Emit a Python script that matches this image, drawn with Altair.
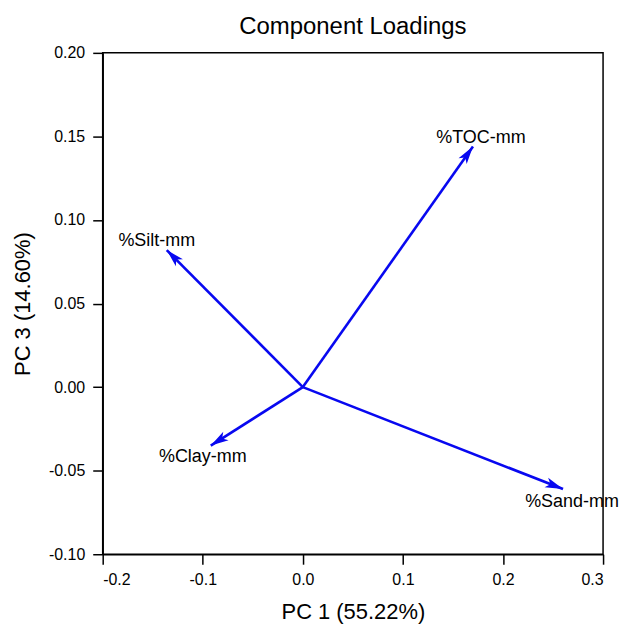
import math
import altair as alt
import pandas as pd

variables = ["%TOC-mm", "%Silt-mm", "%Clay-mm", "%Sand-mm"]
pc1 = [0.170, -0.136, -0.092, 0.260]
pc3 = [0.144, 0.082, -0.035, -0.061]
label_dx = [8, -10, -8, 9]
label_dy = [-8, -9, 11, 13]

W, H = 502, 503
XDOM, YDOM = [-0.2, 0.3], [-0.1, 0.2]
sx = W / (XDOM[1] - XDOM[0])
sy = H / (YDOM[1] - YDOM[0])

angles = [(math.degrees(math.atan2(x * sx, y * sy)) + 360) % 360 for x, y in zip(pc1, pc3)]

df = pd.DataFrame({"var": variables, "x": pc1, "y": pc3, "x0": 0.0, "y0": 0.0, "angle": angles})

BLUE = "#0808f0"
xs = alt.Scale(domain=XDOM, nice=False, zero=False)
ys = alt.Scale(domain=YDOM, nice=False, zero=False)

xaxis = alt.Axis(title="PC 1 (55.22%)", values=[-0.2, -0.1, 0.0, 0.1, 0.2, 0.3],
                 labelExpr="replace(format(datum.value, '.1f'), '\u2212', '-')",
                 tickSize=10, labelPadding=7, titlePadding=14, grid=False)
yaxis = alt.Axis(title="PC 3 (14.60%)", values=[-0.1, -0.05, 0.0, 0.05, 0.1, 0.15, 0.2],
                 labelExpr="replace(format(datum.value, '.2f'), '\u2212', '-')",
                 tickSize=10, labelPadding=8, titlePadding=14, grid=False)

base = alt.Chart(df)
lines = base.mark_rule(color=BLUE, strokeWidth=2.6).encode(
    x=alt.X("x0:Q", scale=xs, axis=xaxis),
    y=alt.Y("y0:Q", scale=ys, axis=yaxis),
    x2="x:Q", y2="y:Q",
)
heads = base.mark_point(
    shape="M0,0L-0.5,1.8L0,1.35L0.5,1.8Z", filled=True, color=BLUE, opacity=1, size=400,
).encode(
    x=alt.X("x:Q", scale=xs), y=alt.Y("y:Q", scale=ys),
    angle=alt.Angle("angle:Q", scale=None),
)
layers = [lines, heads]
for v, dx, dy in zip(variables, label_dx, label_dy):
    layers.append(
        base.transform_filter(alt.datum.var == v).mark_text(
            font="Liberation Sans", fontSize=18, color="black", dx=dx, dy=dy,
            align="center", baseline="middle",
        ).encode(x=alt.X("x:Q", scale=xs), y=alt.Y("y:Q", scale=ys), text="var:N")
    )

chart = alt.layer(*layers).properties(
    width=W, height=H,
    title=alt.TitleParams("Component Loadings", fontSize=24, font="Liberation Sans",
                          fontWeight="normal", color="black", offset=6, anchor="middle"),
    autosize=alt.AutoSizeParams(type="none"),
    padding={"left": 95, "top": 44, "right": 20, "bottom": 76},
).configure_view(stroke="black", strokeWidth=1.5).configure_axis(
    domainColor="black", domainWidth=1.5, tickColor="black", tickWidth=1.5,
    labelFont="Liberation Sans", labelFontSize=16, labelColor="black",
    titleFont="Liberation Sans", titleFontSize=22, titleFontWeight="normal", titleColor="black",
)

chart.save("out.html", embed_options={"renderer": "svg", "actions": False})
